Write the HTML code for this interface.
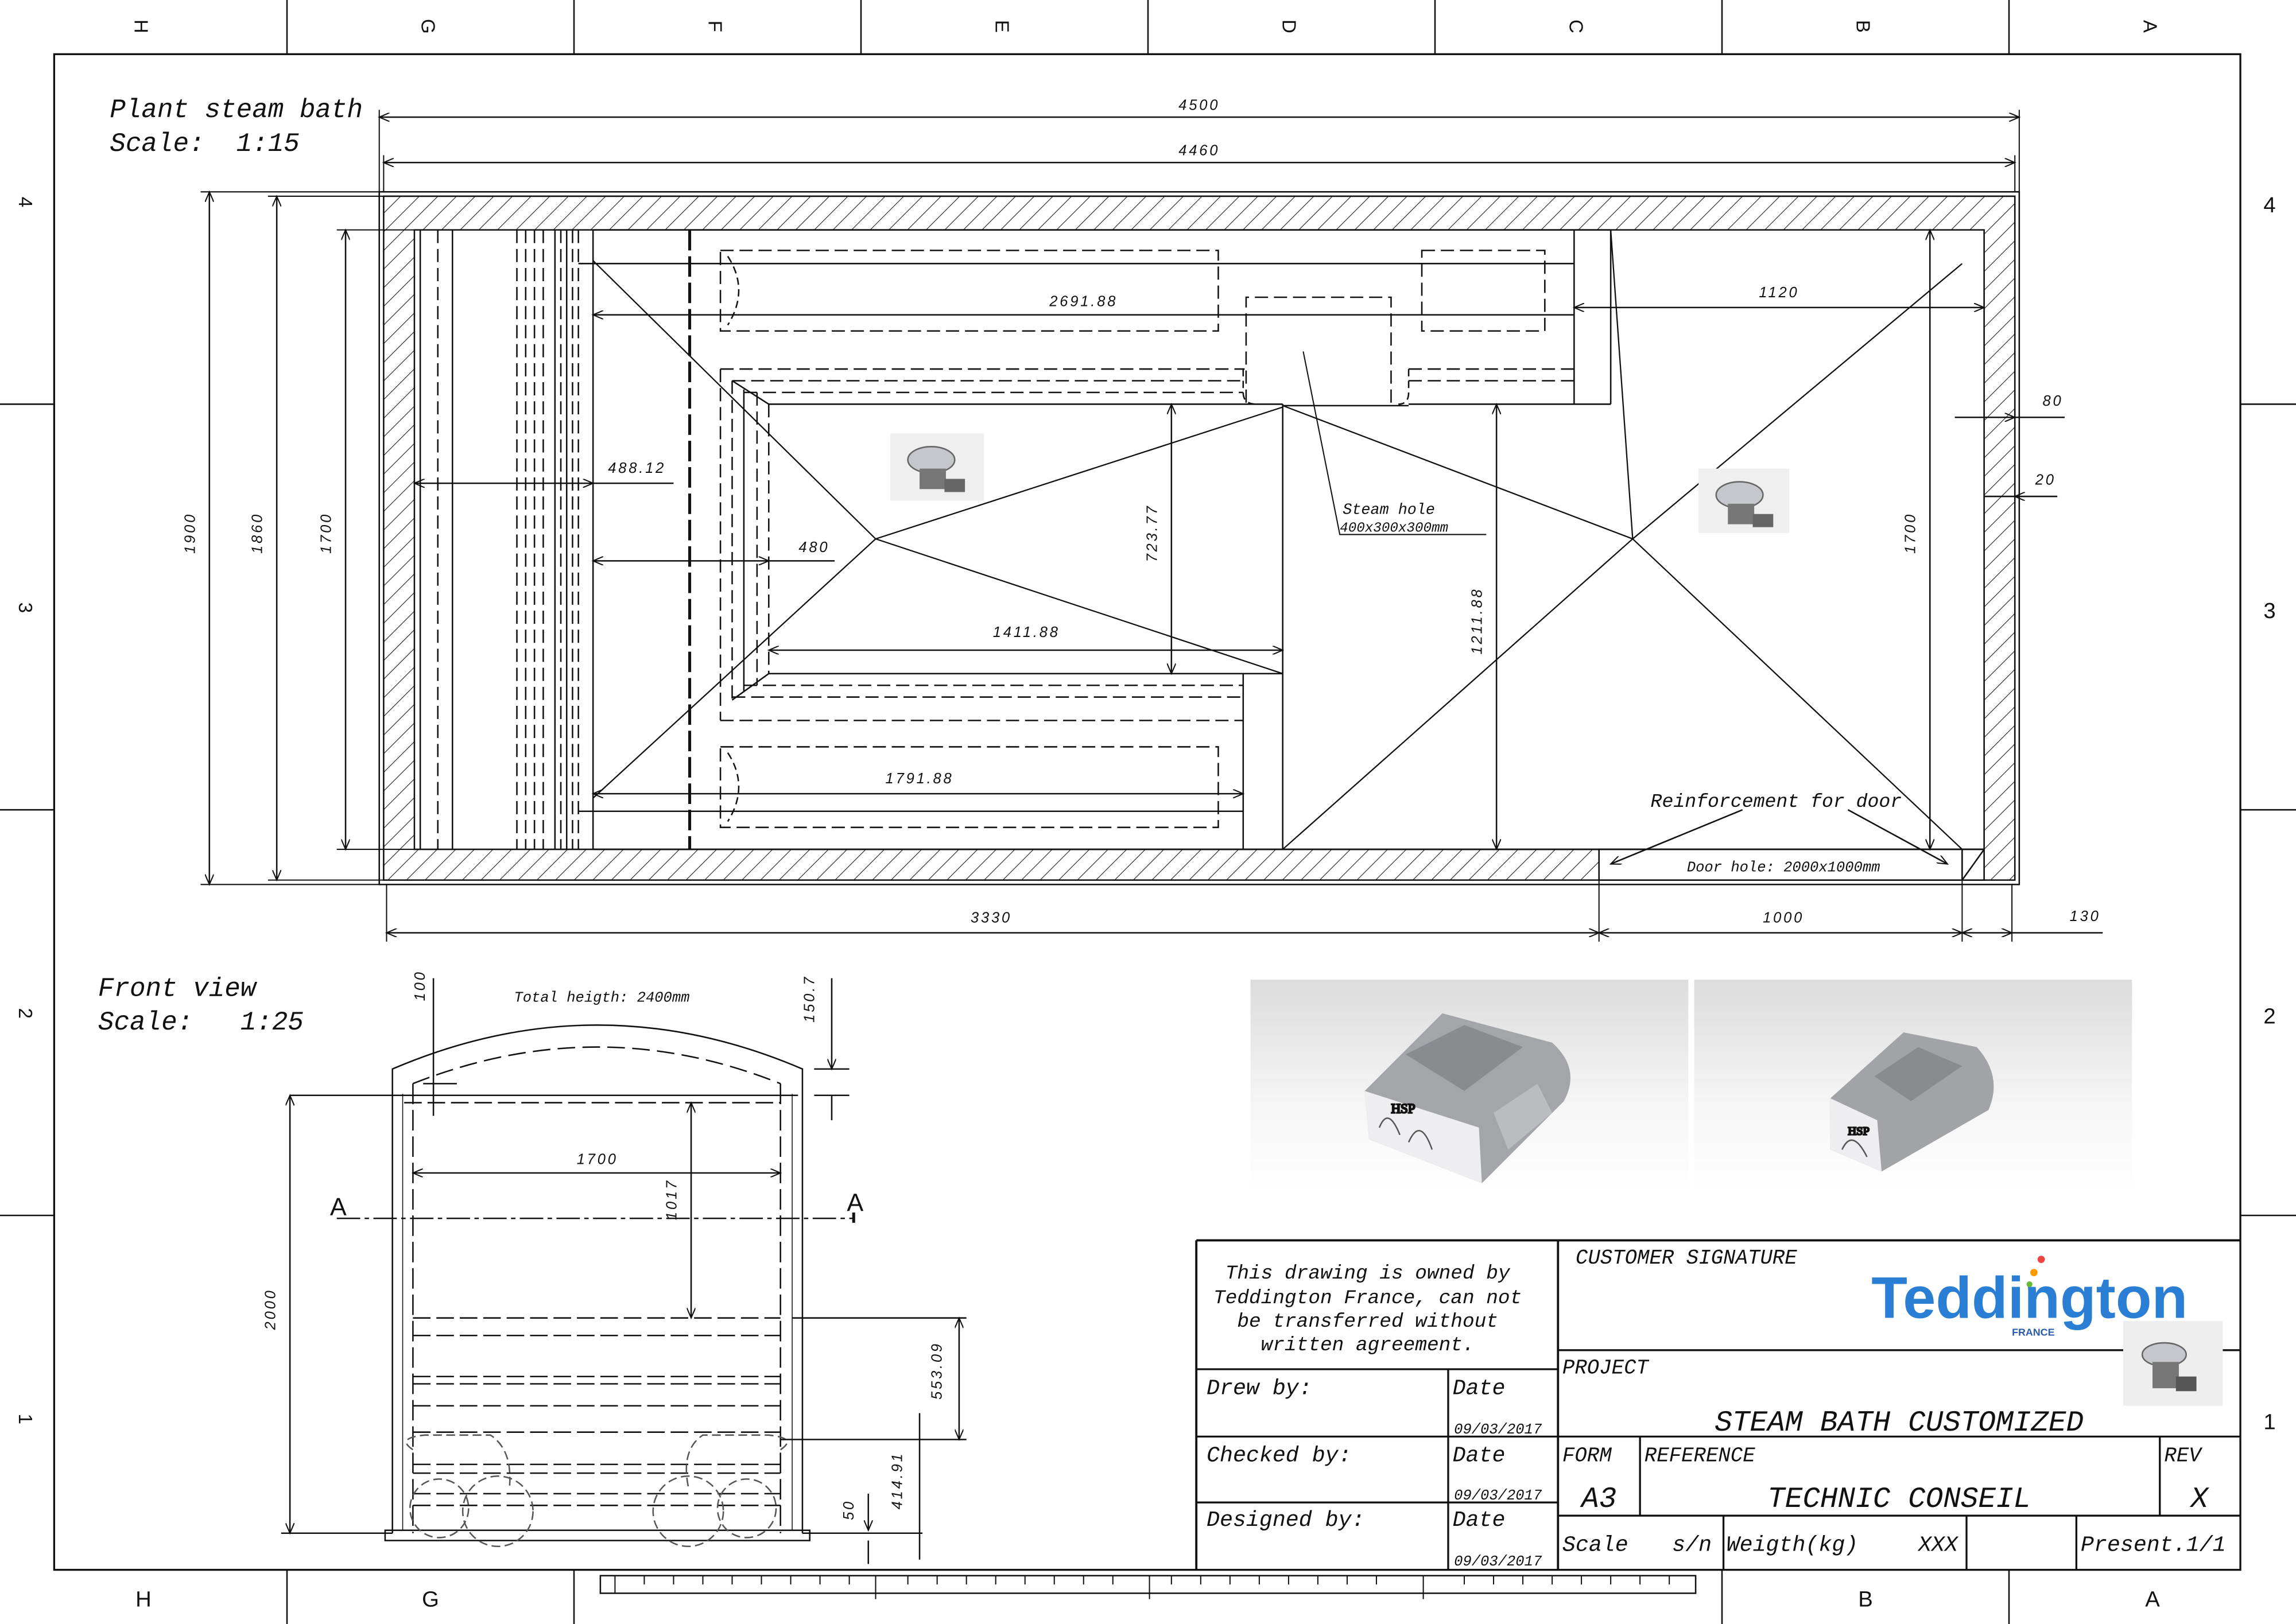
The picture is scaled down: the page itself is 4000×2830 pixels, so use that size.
<!DOCTYPE html>
<html><head><meta charset="utf-8"><style>
html,body{margin:0;padding:0;background:#fff;}
svg{display:block;}
text{font-family:"Liberation Mono",monospace;font-style:italic;fill:#111;white-space:pre;}
.d{font-family:"Liberation Sans",sans-serif;font-style:italic;font-size:10px;letter-spacing:1.5px;}
</style></head><body>
<svg width="4000" height="2830" viewBox="0 0 1568 1109" preserveAspectRatio="none" xmlns="http://www.w3.org/2000/svg">
<defs>
<pattern id="h" patternUnits="userSpaceOnUse" width="9" height="9" patternTransform="rotate(45)">
<line x1="0" y1="0" x2="0" y2="9" stroke="#222" stroke-width="0.9"/></pattern>
<marker id="a" markerWidth="8" markerHeight="6" refX="7" refY="3" orient="auto-start-reverse"><path d="M0,0 L7,3 L0,6" fill="none" stroke="#111" stroke-width="0.8"/></marker>
<linearGradient id="g" x1="0" y1="0" x2="0" y2="1"><stop offset="0" stop-color="#dcdcdc"/><stop offset="0.6" stop-color="#f6f6f6"/><stop offset="1" stop-color="#fff"/></linearGradient>
</defs>
<g stroke="#111" fill="none" stroke-width="1">
<rect x="37" y="37" width="1493" height="1035" stroke-width="1.3"/>
<g stroke-width="1">
<line x1="196" y1="0" x2="196" y2="37"/><line x1="392" y1="0" x2="392" y2="37"/><line x1="588" y1="0" x2="588" y2="37"/><line x1="784" y1="0" x2="784" y2="37"/><line x1="980" y1="0" x2="980" y2="37"/><line x1="1176" y1="0" x2="1176" y2="37"/><line x1="1372" y1="0" x2="1372" y2="37"/>
<line x1="196" y1="1072" x2="196" y2="1109"/><line x1="392" y1="1072" x2="392" y2="1109"/><line x1="1176" y1="1072" x2="1176" y2="1109"/><line x1="1372" y1="1072" x2="1372" y2="1109"/>
<line x1="0" y1="276" x2="37" y2="276"/><line x1="0" y1="553" x2="37" y2="553"/><line x1="0" y1="830" x2="37" y2="830"/>
<line x1="1530" y1="276" x2="1568" y2="276"/><line x1="1530" y1="553" x2="1568" y2="553"/><line x1="1530" y1="830" x2="1568" y2="830"/>
</g>
<rect x="410" y="1076" width="748" height="12"/>
<path d="M420,1076v12M440,1076v6M460,1076v6M480,1076v6M500,1076v6M520,1076v6M540,1076v6M560,1076v6M580,1076v6M598,1076v16M620,1076v6M640,1076v6M660,1076v6M680,1076v6M700,1076v6M720,1076v6M740,1076v6M760,1076v6M785,1076v16M800,1076v6M820,1076v6M840,1076v6M860,1076v6M880,1076v6M900,1076v6M920,1076v6M940,1076v6M972,1076v16M1000,1076v6M1020,1076v6M1040,1076v6M1060,1076v6M1080,1076v6M1100,1076v6M1120,1076v6M1140,1076v6" stroke-width="0.8"/>

<rect x="259" y="131" width="1120" height="473"/>
<path d="M262,134H1376V601H262Z M283,157V580H1355V157Z" fill="url(#h)" fill-rule="evenodd" stroke="#111"/>
<rect x="1092" y="580" width="248" height="21" fill="#fff"/>
<rect x="1340" y="580" width="15" height="21" fill="#fff"/><line x1="1340" y1="601" x2="1355" y2="580"/>
<path d="M287,157V580M309,157V580M379,157V580M405,157V580M387,157V580" stroke-width="1"/>
<path d="M299,157V580M353,157V580M359,157V580M365,157V580M371,157V580M383,157V580M391,157V580M395,157V580" stroke-dasharray="9,4"/>
<path d="M471,157V580" stroke-width="2" stroke-dasharray="14,4"/>
<path d="M405,157H1100M405,580H1355"/>
<rect x="492" y="171" width="340" height="55" stroke-dasharray="9,4"/>
<path d="M497,175 Q512,198 497,222" stroke-dasharray="5,3"/>
<rect x="971" y="171" width="84" height="55" stroke-dasharray="9,4"/>
<path d="M851,275V203H950V275" stroke-dasharray="9,4"/>
<path d="M1075,157V276M1100,157V276"/>
<path d="M492,252H850M962,252H1075M500,260H850M962,260H1075" stroke-dasharray="9,4"/>
<path d="M500,260V478M492,252V492M525,276V460M517,268V468" stroke-dasharray="9,4"/>
<path d="M500,260L525,276M500,478L525,460M508,266V472"/>
<path d="M525,276H876M525,460H876M876,276V580M849,460V580M962,276H1100M876,277H962"/>
<path d="M508,268H849M508,468H849M500,476H849M492,492H849" stroke-dasharray="9,4"/>
<path d="M849,252V268 Q849,276 858,276M962,252V268 Q962,276 955,276" stroke-dasharray="5,3"/>
<rect x="492" y="510" width="340" height="55" stroke-dasharray="9,4"/>
<path d="M497,514 Q512,537 497,561" stroke-dasharray="5,3"/>
<path d="M405,178L598,368L405,545M598,368L876,278M598,368L876,460" stroke-width="0.9"/>
<path d="M876,277L1115,368L876,580M1115,368L1100,157M1115,368L1340,180M1115,368L1340,580" stroke-width="0.9"/>
<path d="M259,75V131M1379,75V131M262,106V131M1376,106V131" stroke-width="0.8"/>
<line x1="259" y1="80" x2="1379" y2="80" marker-start="url(#a)" marker-end="url(#a)"/>
<line x1="262" y1="111" x2="1376" y2="111" marker-start="url(#a)" marker-end="url(#a)"/>
<path d="M137,131H259M183,134H262M230,157H283M137,604H259M183,601H262M230,580H283" stroke-width="0.8"/>
<line x1="143" y1="131" x2="143" y2="604" marker-start="url(#a)" marker-end="url(#a)"/>
<line x1="189" y1="134" x2="189" y2="601" marker-start="url(#a)" marker-end="url(#a)"/>
<line x1="236" y1="157" x2="236" y2="580" marker-start="url(#a)" marker-end="url(#a)"/>
<path d="M264,604V643M1092,601V643M1340,601V643M1374,604V643" stroke-width="0.8"/>
<line x1="264" y1="637" x2="1092" y2="637" marker-start="url(#a)" marker-end="url(#a)"/>
<line x1="1092" y1="637" x2="1340" y2="637" marker-start="url(#a)" marker-end="url(#a)"/>
<line x1="1340" y1="637" x2="1374" y2="637" marker-start="url(#a)" marker-end="url(#a)"/>
<line x1="1374" y1="637" x2="1436" y2="637"/>
<path d="M395,180H1075"/>
<line x1="405" y1="215" x2="1075" y2="215" marker-start="url(#a)"/>
<line x1="1075" y1="210" x2="1355" y2="210" marker-start="url(#a)" marker-end="url(#a)"/>
<line x1="283" y1="330" x2="405" y2="330" marker-start="url(#a)" marker-end="url(#a)"/><line x1="405" y1="330" x2="460" y2="330"/>
<line x1="405" y1="383" x2="525" y2="383" marker-start="url(#a)" marker-end="url(#a)"/><line x1="525" y1="383" x2="570" y2="383"/>
<line x1="525" y1="444" x2="876" y2="444" marker-start="url(#a)" marker-end="url(#a)"/>
<line x1="800" y1="276" x2="800" y2="460" marker-start="url(#a)" marker-end="url(#a)"/>
<line x1="1022" y1="276" x2="1022" y2="580" marker-start="url(#a)" marker-end="url(#a)"/>
<line x1="1318" y1="157" x2="1318" y2="580" marker-start="url(#a)" marker-end="url(#a)"/>
<line x1="405" y1="542" x2="849" y2="542" marker-start="url(#a)" marker-end="url(#a)"/><path d="M395,554H849"/>
<line x1="1335" y1="285" x2="1376" y2="285" marker-end="url(#a)"/><line x1="1376" y1="285" x2="1410" y2="285"/>
<line x1="1355" y1="339" x2="1376" y2="339"/><line x1="1405" y1="339" x2="1376" y2="339" marker-end="url(#a)"/>
<path d="M890,240L915,365H1015" stroke-width="0.8"/>
<line x1="1190" y1="553" x2="1100" y2="590" marker-end="url(#a)"/>
<line x1="1262" y1="553" x2="1330" y2="590" marker-end="url(#a)"/>

<path d="M268,1047V730 Q408,670 548,730V1047"/>
<path d="M282,740 Q408,690 533,740" stroke-dasharray="12,5"/>
<path d="M282,740V1047M533,740V1047" stroke-dasharray="14,4"/>
<path d="M275,747V1045M541,747V1045" stroke-width="0.6"/>
<rect x="263" y="1045" width="290" height="7"/>
<path d="M198,748H545"/>
<path d="M276,753H533M282,900H533M282,912H533M282,940H533M282,945H533M282,960H533M282,978H533M282,1000H533M282,1006H533M282,1020H533M282,1028H533" stroke-dasharray="12,4"/>
<path d="M282,990 Q270,982 290,980H335 Q350,990 348,1015 M533,990 Q545,982 525,980H480 Q465,990 470,1015" stroke-dasharray="6,3" stroke="#555"/>
<circle cx="300" cy="1030" r="20" stroke-dasharray="6,3" stroke="#555"/><circle cx="340" cy="1032" r="24" stroke-dasharray="6,3" stroke="#555"/>
<circle cx="470" cy="1032" r="24" stroke-dasharray="6,3" stroke="#555"/><circle cx="510" cy="1030" r="20" stroke-dasharray="6,3" stroke="#555"/>
<line x1="198" y1="748" x2="198" y2="1047" marker-start="url(#a)" marker-end="url(#a)"/><path d="M192,1047H268"/>
<line x1="282" y1="801" x2="533" y2="801" marker-start="url(#a)" marker-end="url(#a)"/>
<line x1="472" y1="753" x2="472" y2="900" marker-start="url(#a)" marker-end="url(#a)"/>
<path d="M541,900H660M533,983H660M548,1047H630"/>
<line x1="655" y1="900" x2="655" y2="983" marker-start="url(#a)" marker-end="url(#a)"/>
<line x1="628" y1="965" x2="628" y2="1065"/>
<line x1="593" y1="1020" x2="593" y2="1045" marker-end="url(#a)"/><line x1="593" y1="1052" x2="593" y2="1068"/>
<line x1="568" y1="668" x2="568" y2="730" marker-end="url(#a)"/><line x1="568" y1="748" x2="568" y2="765"/><path d="M556,730H580M556,748H580"/>
<line x1="296" y1="668" x2="296" y2="762"/><path d="M289,740H312"/>
<path d="M230,832H583" stroke-dasharray="16,3,3,3"/><path d="M583,828V835" stroke-width="2"/>

<rect x="854" y="669" width="299" height="146" fill="url(#g)" stroke="none"/>
<rect x="1157" y="669" width="299" height="146" fill="url(#g)" stroke="none"/>
<path d="M932,745L985,692L1060,712 Q1080,730 1068,752L1012,808L935,778Z" fill="#a4a5a9" stroke="none"/>
<path d="M960,720L1000,700L1040,715L1000,745Z" fill="#8a8b8f" stroke="none"/>
<path d="M1020,760L1050,740L1060,760L1030,785Z" fill="#bbbcbf" stroke="none"/>
<path d="M932,745L935,778L1012,808L1010,770Z" fill="#eeeef0" stroke="none"/>
<path d="M942,770 Q948,755 956,775M962,780 Q970,762 978,785" stroke="#555" fill="none"/>
<text x="950" y="760" style="font-family:'Liberation Serif',serif;font-style:normal;fill:#d23" font-size="9">HSP</text>
<path d="M1250,750L1300,705L1350,715 Q1368,735 1358,758L1285,800L1250,785Z" fill="#a2a3a7" stroke="none"/>
<path d="M1280,735L1310,715L1340,728L1305,752Z" fill="#8a8b8f" stroke="none"/>
<path d="M1250,750L1250,785L1285,800L1282,765Z" fill="#eeeef0" stroke="none"/>
<path d="M1258,785 Q1265,770 1275,790" stroke="#555" fill="none"/>
<text x="1262" y="775" style="font-family:'Liberation Serif',serif;font-style:normal;fill:#d23" font-size="8">HSP</text>
<rect x="608" y="296" width="64" height="46" fill="#efefef" stroke="none"/>
<ellipse cx="636" cy="314" rx="16" ry="9" fill="#c5c7cc" stroke="#666"/><rect x="628" y="320" width="18" height="14" fill="#777" stroke="none"/><rect x="645" y="327" width="14" height="9" fill="#666" stroke="none"/>
<rect x="1160" y="320" width="62" height="44" fill="#efefef" stroke="none"/>
<ellipse cx="1188" cy="338" rx="16" ry="9" fill="#c5c7cc" stroke="#666"/><rect x="1180" y="344" width="18" height="14" fill="#777" stroke="none"/><rect x="1197" y="351" width="14" height="9" fill="#666" stroke="none"/>

<path d="M817,847H1530M817,847V1072M1064,847V1072" stroke-width="1.5"/>
<path d="M817,935H1064M817,981H1064M817,1026H1064M989,935V1072" stroke-width="1.3"/>
<path d="M1064,922H1530M1064,981H1530M1064,1035H1530M1120,981V1035M1475,981V1035M1177,1035V1072M1343,1035V1072M1418,1035V1072" stroke-width="1.3"/>
<rect x="1450" y="902" width="68" height="58" fill="#eee" stroke="none"/>
<ellipse cx="1478" cy="925" rx="15" ry="8" fill="#c5c7cc" stroke="#666"/><rect x="1470" y="930" width="18" height="18" fill="#777" stroke="none"/><rect x="1486" y="940" width="14" height="10" fill="#555" stroke="none"/>
</g>
<g font-size="13">
<text x="98" y="24" transform="rotate(90 98 18)" text-anchor="middle" style="font-style:normal;font-family:'Liberation Sans',sans-serif">H</text>
<text x="294" y="24" transform="rotate(90 294 18)" text-anchor="middle" style="font-style:normal;font-family:'Liberation Sans',sans-serif">G</text>
<text x="490" y="24" transform="rotate(90 490 18)" text-anchor="middle" style="font-style:normal;font-family:'Liberation Sans',sans-serif">F</text>
<text x="686" y="24" transform="rotate(90 686 18)" text-anchor="middle" style="font-style:normal;font-family:'Liberation Sans',sans-serif">E</text>
<text x="882" y="24" transform="rotate(90 882 18)" text-anchor="middle" style="font-style:normal;font-family:'Liberation Sans',sans-serif">D</text>
<text x="1078" y="24" transform="rotate(90 1078 18)" text-anchor="middle" style="font-style:normal;font-family:'Liberation Sans',sans-serif">C</text>
<text x="1274" y="24" transform="rotate(90 1274 18)" text-anchor="middle" style="font-style:normal;font-family:'Liberation Sans',sans-serif">B</text>
<text x="1470" y="24" transform="rotate(90 1470 18)" text-anchor="middle" style="font-style:normal;font-family:'Liberation Sans',sans-serif">A</text>
<text x="18" y="143" transform="rotate(90 18 138)" text-anchor="middle" style="font-style:normal;font-family:'Liberation Sans',sans-serif">4</text>
<text x="18" y="420" transform="rotate(90 18 415)" text-anchor="middle" style="font-style:normal;font-family:'Liberation Sans',sans-serif">3</text>
<text x="18" y="697" transform="rotate(90 18 692)" text-anchor="middle" style="font-style:normal;font-family:'Liberation Sans',sans-serif">2</text>
<text x="18" y="974" transform="rotate(90 18 969)" text-anchor="middle" style="font-style:normal;font-family:'Liberation Sans',sans-serif">1</text>
</g>
<g font-size="15" text-anchor="middle">
<text x="98" y="1097" style="font-style:normal;font-family:'Liberation Sans',sans-serif">H</text>
<text x="294" y="1097" style="font-style:normal;font-family:'Liberation Sans',sans-serif">G</text>
<text x="1274" y="1097" style="font-style:normal;font-family:'Liberation Sans',sans-serif">B</text>
<text x="1470" y="1097" style="font-style:normal;font-family:'Liberation Sans',sans-serif">A</text>
<text x="1550" y="145" style="font-style:normal;font-family:'Liberation Sans',sans-serif">4</text>
<text x="1550" y="422" style="font-style:normal;font-family:'Liberation Sans',sans-serif">3</text>
<text x="1550" y="699" style="font-style:normal;font-family:'Liberation Sans',sans-serif">2</text>
<text x="1550" y="976" style="font-style:normal;font-family:'Liberation Sans',sans-serif">1</text>
<text x="231" y="830" style="font-style:normal;font-family:'Liberation Sans',sans-serif;font-size:17px">A</text>
<text x="584" y="827" style="font-style:normal;font-family:'Liberation Sans',sans-serif;font-size:17px">A</text>
</g>
<g font-size="18">
<text x="75" y="80">Plant steam bath</text>
<text x="75" y="103">Scale:&#160; 1:15</text>
<text x="67" y="680">Front view</text>
<text x="67" y="703">Scale:&#160;&#160; 1:25</text>
</g>
<g class="d" text-anchor="middle">
<text class="d" x="819" y="75">4500</text>
<text class="d" x="819" y="106">4460</text>
<text class="d" x="677" y="630">3330</text>
<text class="d" x="1218" y="630">1000</text>
<text class="d" x="1424" y="629">130</text>
<text class="d" x="740" y="209">2691.88</text>
<text class="d" x="1215" y="203">1120</text>
<text class="d" x="435" y="323">488.12</text>
<text class="d" x="556" y="377">480</text>
<text class="d" x="701" y="435">1411.88</text>
<text class="d" x="628" y="535">1791.88</text>
<text class="d" x="1402" y="277">80</text>
<text class="d" x="1397" y="331">20</text>
<text class="d" x="137" y="368" transform="rotate(-90 133 368)">1900</text>
<text class="d" x="183" y="368" transform="rotate(-90 179 368)">1860</text>
<text class="d" x="230" y="368" transform="rotate(-90 226 368)">1700</text>
<text class="d" x="794" y="368" transform="rotate(-90 790 368)">723.77</text>
<text class="d" x="1016" y="428" transform="rotate(-90 1012 428)">1211.88</text>
<text class="d" x="1312" y="368" transform="rotate(-90 1308 368)">1700</text>
<text class="d" x="408" y="795">1700</text>
<text class="d" x="466" y="823" transform="rotate(-90 462 823)">1017</text>
<text class="d" x="192" y="898" transform="rotate(-90 188 898)">2000</text>
<text class="d" x="647" y="940" transform="rotate(-90 643 940)">553.09</text>
<text class="d" x="620" y="1015" transform="rotate(-90 616 1015)">414.91</text>
<text class="d" x="587" y="1035" transform="rotate(-90 583 1035)">50</text>
<text class="d" x="560" y="686" transform="rotate(-90 556 686)">150.7</text>
<text class="d" x="294" y="677" transform="rotate(-90 290 677)">100</text>
</g>
<g font-size="10.5">
<text x="917" y="351">Steam hole</text>
<text x="915" y="363" font-size="9.5">400x300x300mm</text>
<text x="1213" y="551" text-anchor="middle" font-size="13">Reinforcement for door</text>
<text x="1218" y="595" text-anchor="middle" font-size="10">Door hole: 2000x1000mm</text>
<text x="411" y="684" text-anchor="middle" font-size="10">Total heigth: 2400mm</text>
</g>
<g font-size="13.5">
<text x="934" y="873" text-anchor="middle">This drawing is owned by</text>
<text x="934" y="890" text-anchor="middle">Teddington France, can not</text>
<text x="934" y="906" text-anchor="middle">be transferred without</text>
<text x="934" y="922" text-anchor="middle">written agreement.</text>
<text x="824" y="952" font-size="15">Drew by:</text>
<text x="992" y="952" font-size="15">Date</text>
<text x="993" y="979" font-size="10">09/03/2017</text>
<text x="824" y="998" font-size="15">Checked by:</text>
<text x="992" y="998" font-size="15">Date</text>
<text x="993" y="1024" font-size="10">09/03/2017</text>
<text x="824" y="1042" font-size="15">Designed by:</text>
<text x="992" y="1042" font-size="15">Date</text>
<text x="993" y="1069" font-size="10">09/03/2017</text>
<text x="1076" y="863" font-size="14">CUSTOMER SIGNATURE</text>
<text x="1067" y="938" font-size="14">PROJECT</text>
<text x="1297" y="977" text-anchor="middle" font-size="20">STEAM BATH CUSTOMIZED</text>
<text x="1067" y="998" font-size="14">FORM</text>
<text x="1123" y="998" font-size="14">REFERENCE</text>
<text x="1478" y="998" font-size="14">REV</text>
<text x="1092" y="1029" text-anchor="middle" font-size="20">A3</text>
<text x="1297" y="1029" text-anchor="middle" font-size="20">TECHNIC CONSEIL</text>
<text x="1502" y="1029" text-anchor="middle" font-size="20">X</text>
<text x="1067" y="1059" font-size="15">Scale</text>
<text x="1142" y="1059" font-size="15">s/n</text>
<text x="1179" y="1059" font-size="15">Weigth(kg)</text>
<text x="1310" y="1059" font-size="15">XXX</text>
<text x="1421" y="1059" font-size="15">Present.1/1</text>
</g>
<text x="1278" y="900" style="font-family:'Liberation Sans',sans-serif;font-style:normal;font-weight:bold;fill:#2a7fd4" font-size="40" textLength="216" lengthAdjust="spacingAndGlyphs">Teddington</text>
<text x="1374" y="912" style="font-family:'Liberation Sans',sans-serif;font-style:normal;font-weight:bold;fill:#2a5bb0" font-size="7">FRANCE</text>
<circle cx="1394" cy="860" r="2.5" fill="#e44"/><circle cx="1389" cy="869" r="2.5" fill="#f90"/><circle cx="1386" cy="877" r="2" fill="#6b3"/>
</svg>
</body></html>
